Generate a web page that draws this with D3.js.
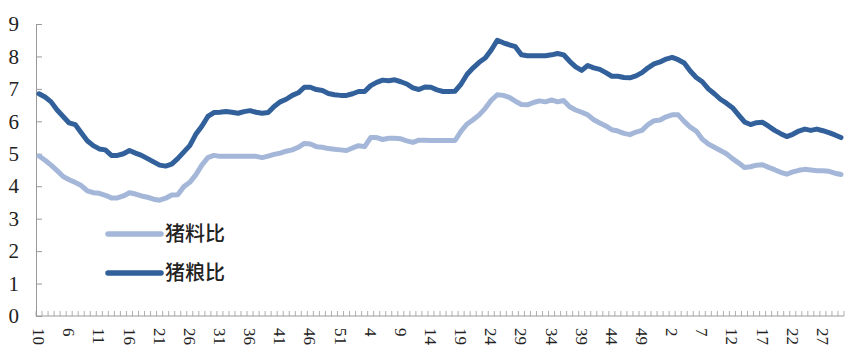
<!DOCTYPE html>
<html>
<head>
<meta charset="utf-8">
<script src="https://cdnjs.cloudflare.com/ajax/libs/d3/7.8.5/d3.min.js"></script>
<style>
  body { margin: 0; background: #fff; }
  svg { display: block; }
</style>
</head>
<body>
<svg width="852" height="354"></svg>
<script>
// 猪粮比 (dark) and 猪料比 (light), weekly values
const pigGrain = [6.85,6.75,6.6,6.35,6.15,5.95,5.9,5.65,5.4,5.25,
  5.15,5.12,4.95,4.95,5.0,5.1,5.02,4.95,4.85,4.75,
  4.65,4.62,4.68,4.85,5.05,5.25,5.6,5.85,6.15,6.27,
  6.28,6.3,6.28,6.25,6.3,6.33,6.28,6.25,6.27,6.46,
  6.6,6.68,6.8,6.88,7.05,7.05,6.98,6.95,6.86,6.82,
  6.8,6.8,6.85,6.92,6.92,7.1,7.2,7.27,7.25,7.28,
  7.22,7.15,7.03,6.98,7.06,7.05,6.97,6.92,6.92,6.93,
  7.15,7.45,7.65,7.82,7.95,8.2,8.5,8.42,8.36,8.3,
  8.05,8.02,8.02,8.02,8.02,8.05,8.09,8.05,7.85,7.68,
  7.57,7.72,7.65,7.6,7.5,7.39,7.39,7.35,7.34,7.4,
  7.5,7.65,7.77,7.83,7.92,7.97,7.9,7.8,7.55,7.35,
  7.22,7.0,6.85,6.68,6.56,6.42,6.2,5.98,5.9,5.96,
  5.97,5.85,5.72,5.62,5.53,5.6,5.7,5.76,5.72,5.76,
  5.71,5.65,5.58,5.5];

const pigFeed = [4.93,4.8,4.65,4.48,4.3,4.2,4.12,4.02,3.86,3.8,
  3.78,3.72,3.64,3.64,3.7,3.8,3.76,3.7,3.66,3.6,
  3.57,3.63,3.73,3.74,3.98,4.12,4.35,4.65,4.88,4.95,
  4.92,4.92,4.92,4.92,4.92,4.92,4.92,4.88,4.93,4.98,
  5.02,5.08,5.12,5.2,5.32,5.3,5.22,5.2,5.16,5.14,
  5.12,5.1,5.18,5.25,5.22,5.5,5.5,5.44,5.48,5.48,
  5.46,5.4,5.35,5.42,5.42,5.41,5.41,5.41,5.41,5.41,
  5.7,5.92,6.05,6.2,6.4,6.65,6.82,6.8,6.74,6.62,
  6.52,6.51,6.58,6.63,6.6,6.66,6.6,6.64,6.45,6.35,
  6.28,6.2,6.05,5.95,5.86,5.74,5.7,5.63,5.59,5.67,
  5.72,5.9,6.02,6.04,6.14,6.2,6.2,6.0,5.82,5.7,
  5.45,5.3,5.2,5.1,5.0,4.85,4.72,4.58,4.6,4.65,
  4.66,4.58,4.51,4.43,4.37,4.44,4.49,4.52,4.5,4.48,
  4.48,4.46,4.4,4.36];

// labels shown every 5 weeks
const tickLabels = ['10','6','11','16','21','26','31','36','41','46','51',
  '4','9','14','19','24','29','34','39','44','49',
  '2','7','12','17','22','27'];
const yTicks = [0,1,2,3,4,5,6,7,8,9];

const series = [
  { name: '猪料比', values: pigFeed, color: '#a5b7d9' },
  { name: '猪粮比', values: pigGrain, color: '#31609b' }
];

const svg = d3.select('svg');
const margin = { top: 24, right: 8, bottom: 38, left: 36 };
const width = +svg.attr('width');
const height = +svg.attr('height');
const innerWidth = width - margin.left - margin.right;
const innerHeight = height - margin.top - margin.bottom;

const idx = d3.range(pigGrain.length);

const xScale = d3.scaleBand()
  .domain(idx)
  .range([0, innerWidth]);

const yScale = d3.scaleLinear()
  .domain([0, 9])
  .range([innerHeight, 0]);

const g = svg.append('g')
  .attr('transform', `translate(${margin.left},${margin.top})`);

// y axis, ticks pointing into the plot
const yAxis = d3.axisLeft(yScale)
  .tickValues(yTicks)
  .tickSizeInner(-6)
  .tickSizeOuter(0)
  .tickPadding(17);

const yG = g.append('g').call(yAxis);
yG.select('.domain').attr('stroke', '#9a9a9a');
yG.selectAll('.tick line').attr('stroke', '#9a9a9a');
yG.selectAll('.tick text')
  .attr('font-family', '"Liberation Serif", serif')
  .attr('font-size', 21)
  .attr('fill', '#222');

// x axis: baseline, small ticks at each week boundary
const xG = g.append('g').attr('transform', `translate(0,${innerHeight})`);
xG.append('line')
  .attr('x1', 0).attr('x2', innerWidth)
  .attr('stroke', '#9a9a9a');

xG.selectAll('.wk').data(idx.concat([idx.length]))
  .enter().append('line')
    .attr('class', 'wk')
    .attr('x1', d => d < idx.length ? xScale(d) : innerWidth)
    .attr('x2', d => d < idx.length ? xScale(d) : innerWidth)
    .attr('y1', 0).attr('y2', -5)
    .attr('stroke', '#9a9a9a')
    .attr('stroke-width', 0.8);

xG.selectAll('.lbl').data(tickLabels)
  .enter().append('text')
    .attr('class', 'lbl')
    .attr('transform', (d, i) => `translate(${xScale(i * 5) + xScale.bandwidth() / 2},12) rotate(90)`)
    .attr('dy', '0.35em')
    .attr('font-family', '"Liberation Serif", serif')
    .attr('font-size', 17)
    .attr('fill', '#222')
    .text(d => d);

// lines
const line = d3.line()
  .x((d, i) => xScale(i) + xScale.bandwidth() / 2)
  .y(d => yScale(d));

g.selectAll('.series').data(series)
  .enter().append('path')
    .attr('class', 'series')
    .attr('d', d => line(d.values))
    .attr('fill', 'none')
    .attr('stroke', d => d.color)
    .attr('stroke-width', 5)
    .attr('stroke-linejoin', 'round')
    .attr('stroke-linecap', 'round');

// legend
const legend = svg.append('g').attr('transform', 'translate(108,234)');
const item = legend.selectAll('g').data(series)
  .enter().append('g')
    .attr('transform', (d, i) => `translate(0,${i * 39})`);

item.append('line')
  .attr('x1', 0).attr('x2', 53)
  .attr('stroke', d => d.color)
  .attr('stroke-width', 5.5)
  .attr('stroke-linecap', 'round');

item.append('text')
  .attr('x', 57)
  .attr('dy', '0.36em')
  .attr('font-family', '"Noto Sans CJK SC", sans-serif')
  .attr('font-size', 20)
  .attr('font-weight', 500)
  .attr('fill', '#222')
  .text(d => d.name);
</script>
</body>
</html>
